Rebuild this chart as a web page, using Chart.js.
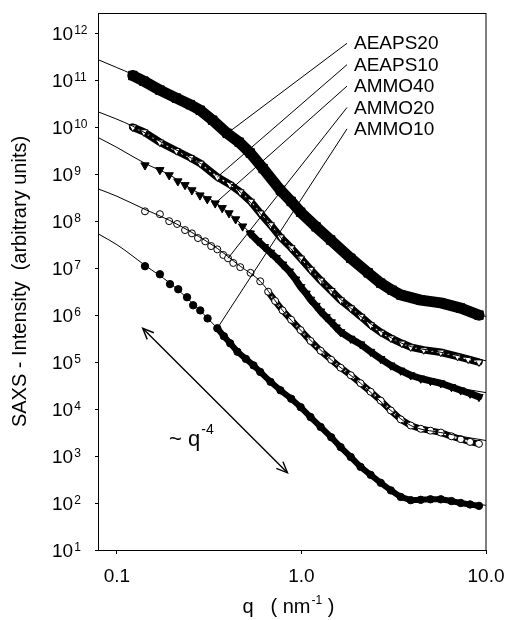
<!DOCTYPE html>
<html><head><meta charset="utf-8">
<script src="https://cdn.jsdelivr.net/npm/chart.js@4/dist/chart.umd.min.js"></script>
<style>html,body{margin:0;padding:0;background:#fff;}canvas{display:block;}</style>
</head><body>
<canvas id="c" width="505" height="620"></canvas>
<script>
// ---------- data ----------
const seriesNames = ['AEAPS20', 'AEAPS10', 'AMMO40', 'AMMO20', 'AMMO10'];
const xTickValues = [0.1, 1, 10];
const xTickLabels = ['0.1', '1.0', '10.0'];
const yTickExponents = [1, 2, 3, 4, 5, 6, 7, 8, 9, 10, 11, 12];

const qAEAPS20 = [0.122,0.14,0.171,0.21,0.25,0.283,0.33,0.396,0.46,0.528,0.62,0.769,0.88,0.99,1.2,1.44,1.85,2.3,2.69,3.1,3.45,4.43,5.69,7.3,9.16];
const iAEAPS20 = [1.26e11,9.55e10,6.17e10,4.17e10,3.02e10,2.29e10,1.41e10,7.41e9,4.79e9,2.82e9,1.32e9,4.57e8,2.63e8,1.55e8,7.59e7,3.98e7,1.62e7,7.94e6,4.79e6,3.39e6,2.69e6,2.09e6,1.82e6,1.41e6,1.0e6];

const qAEAPS10 = [0.122,0.14,0.171,0.21,0.25,0.283,0.35,0.41,0.466,0.53,0.598,0.68,0.769,0.88,0.99,1.12,1.27,1.45,1.63,1.85,2.1,2.37,2.7,3.05,3.5,3.91,4.6,5.69,7.0,8.0,9.16];
const iAEAPS10 = [1.0e10,7.94e9,4.79e9,3.16e9,2.24e9,1.70e9,8.71e8,6.03e8,4.17e8,2.63e8,1.48e8,8.32e7,4.57e7,2.69e7,1.62e7,9.33e6,5.50e6,3.31e6,2.09e6,1.41e6,9.33e5,6.17e5,4.27e5,3.24e5,2.51e5,2.09e5,1.82e5,1.62e5,1.32e5,1.15e5,1.0e5];

const qAMMO40 = [0.142,0.171,0.192,0.214,0.234,0.255,0.282,0.309,0.341,0.372,0.405,0.44,0.48,0.528,0.58,0.63,0.68,0.73,0.79,0.86,0.93,0.99,1.06,1.12,1.2,1.27,1.36,1.45,1.54,1.63,1.85,2.09,2.37,2.69,3.05,3.45,3.91,4.43,5.0,5.69,6.5,7.3,8.2,9.16];
const iAMMO40 = [1.55e9,1.23e9,9.55e8,7.08e8,5.89e8,4.57e8,3.55e8,2.95e8,2.40e8,1.91e8,1.48e8,1.10e8,7.76e7,5.50e7,3.80e7,2.82e7,2.14e7,1.66e7,1.20e7,8.51e6,5.75e6,3.98e6,2.88e6,2.14e6,1.58e6,1.20e6,9.12e5,7.08e5,5.50e5,4.37e5,3.16e5,2.40e5,1.66e5,1.17e5,8.51e4,6.61e4,5.25e4,4.47e4,3.98e4,3.55e4,2.95e4,2.51e4,2.14e4,1.82e4];

const qAMMO20 = [0.142,0.171,0.192,0.212,0.234,0.255,0.275,0.301,0.324,0.35,0.377,0.4,0.427,0.466,0.53,0.598,0.66,0.72,0.79,0.88,0.99,1.12,1.27,1.45,1.63,1.85,2.09,2.37,2.69,3.05,3.45,3.91,4.43,5.0,5.69,6.5,7.3,8.2,9.16];
const iAMMO20 = [1.62e8,1.41e8,1.0e8,8.71e7,6.46e7,5.50e7,4.37e7,3.72e7,2.95e7,2.51e7,1.91e7,1.62e7,1.29e7,1.05e7,7.94e6,5.25e6,3.16e6,2.0e6,1.26e6,7.94e5,4.79e5,2.82e5,1.74e5,1.12e5,7.59e4,5.25e4,3.55e4,2.34e4,1.51e4,9.33e3,6.03e3,4.47e3,3.80e3,3.47e3,3.16e3,2.63e3,2.29e3,2.0e3,1.82e3];

const qAMMO10 = [0.142,0.171,0.194,0.215,0.24,0.259,0.283,0.31,0.35,0.38,0.411,0.45,0.5,0.55,0.598,0.68,0.769,0.88,0.99,1.12,1.27,1.45,1.63,1.85,2.09,2.37,2.69,3.05,3.45,3.91,4.43,5.0,5.69,6.5,7.3,8.2,9.16];
const iAMMO10 = [1.10e7,7.41e6,4.57e6,3.55e6,2.40e6,1.62e6,1.26e6,8.51e5,5.25e5,3.55e5,2.51e5,1.66e5,1.17e5,8.51e4,6.17e4,3.80e4,2.51e4,1.66e4,1.10e4,6.76e3,4.17e3,2.51e3,1.55e3,955,589,398,269,186,135,115,117,120,120,110,100,93.3,87.1];

// fitted curves (thin lines)
const qFitAEAPS20 = [0.08,0.1,0.122,0.17,0.283,0.528,0.99,1.85,3.45,5.69,10];
const iFitAEAPS20 = [2.69e11,1.86e11,1.32e11,6.31e10,2.29e10,2.82e9,1.55e8,1.62e7,2.69e6,1.82e6,9.33e5];
const qFitAEAPS10 = [0.08,0.1,0.122,0.171,0.283,0.466,0.769,1.27,2.1,3.5,5.69,10];
const iFitAEAPS10 = [2.09e10,1.48e10,1.05e10,5.01e9,1.70e9,4.17e8,4.57e7,5.50e6,9.33e5,2.51e5,1.62e5,1.07e5];
const qFitAMMO40 = [0.08,0.1,0.142,0.192,0.255,0.341,0.44,0.528,0.68,0.99,1.45,2.09,3.05,4.43,6.5,10];
const iFitAMMO40 = [5.89e9,3.72e9,1.70e9,9.77e8,4.79e8,2.51e8,1.12e8,5.62e7,2.14e7,3.98e6,7.08e5,2.40e5,8.51e4,4.47e4,3.02e4,2.24e4];
const qFitAMMO20 = [0.08,0.1,0.142,0.192,0.255,0.35,0.466,0.598,0.79,0.99,1.45,2.09,3.05,3.91,5.69,10];
const iFitAMMO20 = [4.79e8,3.39e8,1.78e8,1.05e8,5.75e7,2.63e7,1.10e7,5.25e6,1.26e6,4.79e5,1.12e5,3.55e4,9.33e3,4.47e3,3.16e3,2.14e3];
const qFitAMMO10 = [0.08,0.1,0.142,0.194,0.259,0.35,0.5,0.769,1.27,2.09,3.45,4.43,5.69,10];
const iFitAMMO10 = [5.25e7,3.16e7,1.15e7,4.79e6,1.74e6,5.25e5,1.12e5,2.51e4,4.17e3,589,135,117,120,89.1];

// where each leader line meets its curve (q value)
const leaderQ = [0.396, 0.35, 0.341, 0.4, 0.35];
// ~q^-4 guide arrow ends (q, intensity)
const arrowQ = [0.138, 0.84];
const arrowI = [5.25e5, 4.4e2];

// ---------- build ----------
const FONT = '"Liberation Sans", Arial, Helvetica, sans-serif';
const pts = (qs, is) => qs.map((q, i) => ({x: q, y: is[i]}));

const dataQ = [qAEAPS20, qAEAPS10, qAMMO40, qAMMO20, qAMMO10];
const dataI = [iAEAPS20, iAEAPS10, iAMMO40, iAMMO20, iAMMO10];
const fitQ = [qFitAEAPS20, qFitAEAPS10, qFitAMMO40, qFitAMMO20, qFitAMMO10];
const fitI = [iFitAEAPS20, iFitAEAPS10, iFitAMMO40, iFitAMMO20, iFitAMMO10];

const styles = [
  {shape:'rect',     rot:0,   r:6,   fill:'#000', band:11, dense:0,    open:false, tex:0},
  {shape:'triangle', rot:180, r:4.4, fill:'#fff', band:7.5,dense:0,    open:true,  tex:1.4},
  {shape:'triangle', rot:180, r:4.8, fill:'#000', band:7,  dense:0.5,  open:false, tex:0},
  {shape:'circle',   rot:0,   r:3.5, fill:'#fff', band:6.5,dense:0.62, open:true,  tex:2.2},
  {shape:'circle',   rot:0,   r:3.7, fill:'#000', band:6,  dense:0.34, open:false, tex:0}
];

const datasets = [];
let k = 0;
const push = d => { d.order = 100 - (k++); datasets.push(d); };

seriesNames.forEach((name, s) => {
  const st = styles[s];
  push({
    label: name, data: pts(dataQ[s], dataI[s]), showLine: true,
    borderColor: '#000', borderWidth: st.band, borderJoinStyle: 'round', borderCapStyle: 'round',
    segment: { borderColor: c => c.p0.parsed.x >= st.dense ? '#000' : 'rgba(0,0,0,0)' },
    pointStyle: st.shape, pointRotation: st.rot, pointRadius: st.r,
    pointBackgroundColor: st.fill, pointBorderColor: '#000', pointBorderWidth: 1, tension: 0
  });
  if (st.open) {
    push({
      label: name + ' texture', data: pts(dataQ[s], dataI[s]), showLine: true,
      borderColor: '#fff', borderWidth: st.tex, borderDash: [2, 3.5],
      segment: { borderColor: c => c.p0.parsed.x >= st.dense ? 'rgba(255,255,255,0.9)' : 'rgba(0,0,0,0)' },
      pointRadius: 0, tension: 0
    });
  }
});
seriesNames.forEach((name, s) => {
  push({
    label: name + ' fit', data: pts(fitQ[s], fitI[s]), showLine: true,
    borderColor: '#000', borderWidth: 1, pointRadius: 0, cubicInterpolationMode: 'monotone'
  });
});

const decor = {
  id: 'decor',
  afterDraw(chart) {
    const {ctx, chartArea: a, scales: {x, y}} = chart;
    ctx.save();
    ctx.strokeStyle = '#000'; ctx.fillStyle = '#000'; ctx.lineWidth = 1;
    // frame
    ctx.strokeRect(a.left - 0.5, a.top + 0.5, a.right - a.left + 0.5, a.bottom - a.top);

    // y tick labels 10^n
    yTickExponents.forEach(e => {
      const py = y.getPixelForValue(Math.pow(10, e));
      ctx.font = '19px ' + FONT; ctx.textAlign = 'left'; ctx.textBaseline = 'alphabetic';
      ctx.fillText('10', 52, py + 7);
      const w = ctx.measureText('10').width;
      ctx.font = '12px ' + FONT;
      ctx.fillText(String(e), 52 + w + 1, py + 1);
    });
    // x tick labels
    ctx.font = '19px ' + FONT; ctx.textAlign = 'center';
    xTickValues.forEach((v, i) => {
      ctx.fillText(xTickLabels[i], x.getPixelForValue(v), a.bottom + 32);
    });

    // y title
    ctx.save();
    ctx.translate(20, (a.top + a.bottom) / 2);
    ctx.rotate(-Math.PI / 2);
    ctx.font = '20px ' + FONT; ctx.textAlign = 'center'; ctx.textBaseline = 'middle';
    ctx.fillText('SAXS - Intensity  (arbitrary units)', 0, 0);
    ctx.restore();

    // x title  q ( nm^-1 )
    const cx = (a.left + a.right) / 2, by = a.bottom + 63;
    ctx.textAlign = 'left'; ctx.textBaseline = 'alphabetic';
    ctx.font = '20px ' + FONT;
    ctx.fillText('q', cx - 50, by);
    let tx = cx - 22;
    ctx.fillText('( nm', tx, by); tx += ctx.measureText('( nm').width + 1;
    ctx.font = '12px ' + FONT;
    ctx.fillText('-1', tx, by - 9); tx += ctx.measureText('-1').width;
    ctx.font = '20px ' + FONT;
    ctx.fillText(' )', tx, by);

    // series labels + leader lines
    const labelX = a.left + 255;
    seriesNames.forEach((name, s) => {
      const base = a.top + 36.3 + s * 21.4;
      ctx.font = '19px ' + FONT;
      ctx.fillText(name, labelX, base);
      const qs = dataQ[s];
      let j = 0, best = Infinity;
      qs.forEach((q, i) => { const d = Math.abs(Math.log(q / leaderQ[s])); if (d < best) { best = d; j = i; } });
      const ex = x.getPixelForValue(qs[j]), ey = y.getPixelForValue(dataI[s][j]);
      ctx.beginPath(); ctx.lineWidth = 1;
      ctx.moveTo(labelX - 7, base - 6); ctx.lineTo(ex, ey); ctx.stroke();
    });

    // ~q^-4 double arrow
    const x1 = x.getPixelForValue(arrowQ[0]), y1 = y.getPixelForValue(arrowI[0]);
    const x2 = x.getPixelForValue(arrowQ[1]), y2 = y.getPixelForValue(arrowI[1]);
    ctx.lineWidth = 1.4;
    ctx.beginPath(); ctx.moveTo(x1, y1); ctx.lineTo(x2, y2); ctx.stroke();
    const head = (hx, hy, ang) => {
      const L = 12, sp = 0.4;
      ctx.beginPath();
      ctx.moveTo(hx + L * Math.cos(ang + sp), hy + L * Math.sin(ang + sp));
      ctx.lineTo(hx, hy);
      ctx.lineTo(hx + L * Math.cos(ang - sp), hy + L * Math.sin(ang - sp));
      ctx.stroke();
    };
    const ang = Math.atan2(y2 - y1, x2 - x1);
    head(x1, y1, ang); head(x2, y2, ang + Math.PI);
    const mx = (x1 + x2) / 2, my = (y1 + y2) / 2;
    ctx.font = '22px ' + FONT;
    ctx.fillText('~ q', mx - 46, my + 45);
    const w2 = ctx.measureText('~ q').width;
    ctx.font = '14px ' + FONT;
    ctx.fillText('-4', mx - 46 + w2 + 1, my + 33);
    ctx.restore();
  }
};

new Chart(document.getElementById('c'), {
  type: 'scatter',
  data: { datasets },
  options: {
    responsive: false, animation: false, devicePixelRatio: 1,
    layout: { padding: { top: 13, right: 19, left: 0, bottom: 0 } },
    plugins: { legend: { display: false }, tooltip: { enabled: false } },
    scales: {
      x: {
        type: 'logarithmic', min: 0.08, max: 10,
        afterBuildTicks: s => { s.ticks = xTickValues.map(v => ({value: v})); },
        afterFit: s => { s.height = 70; },
        ticks: { display: false },
        grid: { drawOnChartArea: false, drawTicks: true, tickLength: 4, color: '#000' },
        border: { display: false }
      },
      y: {
        type: 'logarithmic', min: 10, max: 2.7e12,
        afterBuildTicks: s => { s.ticks = yTickExponents.map(e => ({value: Math.pow(10, e)})); },
        afterFit: s => { s.width = 99; },
        ticks: { display: false },
        grid: { drawOnChartArea: false, drawTicks: true, tickLength: 4, color: '#000' },
        border: { display: false }
      }
    }
  },
  plugins: [decor]
});
</script>
</body></html>
